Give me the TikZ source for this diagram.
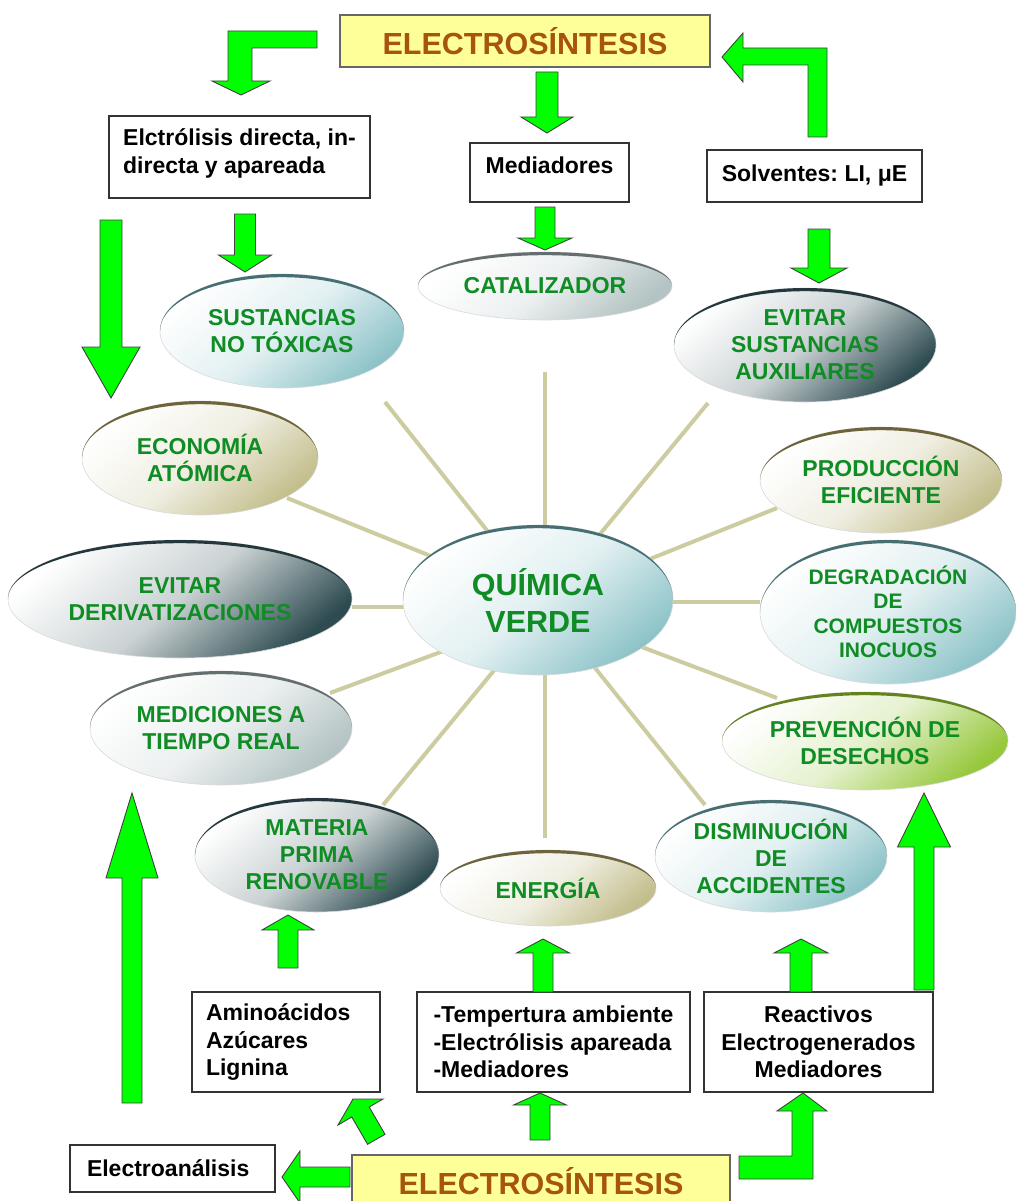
\documentclass[tikz,border=0pt]{standalone}
\usepackage{fontspec}
\setmainfont{Liberation Sans}
\usetikzlibrary{shapes.geometric}
\definecolor{arrowgreen}{RGB}{0,255,0}
\definecolor{spokecol}{RGB}{204,204,160}
\definecolor{gtext}{RGB}{16,140,36}
\definecolor{titlefill}{RGB}{255,255,153}
\definecolor{titletext}{RGB}{166,84,14}
\definecolor{cteal}{RGB}{140,195,200}
\definecolor{ateal}{RGB}{70,110,115}
\definecolor{ckhaki}{RGB}{195,190,140}
\definecolor{akhaki}{RGB}{110,100,60}
\definecolor{cslate}{RGB}{45,75,80}
\definecolor{aslate}{RGB}{35,55,60}
\definecolor{cgray}{RGB}{180,195,195}
\definecolor{agray}{RGB}{100,110,110}
\definecolor{cgreen}{RGB}{150,200,60}
\definecolor{agreen}{RGB}{100,130,30}
\pgfdeclarelayer{background}
\pgfsetlayers{background,main}
\tikzset{
  garrow/.style={fill=arrowgreen, draw=black!75, line width=0.9pt, line join=miter},
  spoke/.style={draw=spokecol, line width=4pt},
  box/.style={draw=black!80, line width=1.3pt, fill=white, inner sep=0pt,
    font=\fontsize{23}{27.5}\selectfont\bfseries, align=left},
  titlebox/.style={draw=black!60, line width=1.3pt, fill=titlefill, text=titletext,
    inner sep=0pt, font=\fontsize{30.5}{36}\selectfont\bfseries},
  gshape/.style={ellipse, inner sep=0pt, draw=black!15, line width=0.6pt,
    left color=white, right color=#1, middle color=#1!25!white, shading angle=40,
    text=gtext, align=center, font=\fontsize{23}{27}\selectfont\bfseries},
}
% name, x, y, rx, ry, fill colour, arc colour, extra options, text
\newcommand\gnode[9]{%
  \node[gshape=#6, minimum width=2*#4, minimum height=2*#5, #8] (#1) at (#2,#3) {#9};
  \fill[#7] (#1.center) ++(-180:#4 and #5)
     arc[start angle=-180,end angle=0,x radius=#4,y radius=#5]
     arc[start angle=0,end angle=-180,x radius=#4,y radius=#5-3.2] -- cycle;}
% vertical block arrow: x, tail y, tip y, shaft half width, head half width, head base y
\newcommand\vblock[6]{%
  \draw[garrow] (#1-#4,#2) -- (#1-#4,#6) -- (#1-#5,#6) -- (#1,#3) -- (#1+#5,#6)
     -- (#1+#4,#6) -- (#1+#4,#2) -- cycle;}
\begin{document}
\frenchspacing
\begin{tikzpicture}[x=1pt,y=-1pt]
\useasboundingbox (0,0) rectangle (1015,1201);

% ---- title boxes
\node[titlebox, minimum width=370, minimum height=52] (top) at (525,41) {ELECTROSÍNTESIS};
\node[titlebox, minimum width=378, minimum height=52] (bot) at (541,1181) {ELECTROSÍNTESIS};

% ---- text boxes
\node[box, minimum width=261, minimum height=82, text depth=12pt] (elc) at (239.5,157) {Elctrólisis directa, in-\\directa y apareada};
\node[box, minimum width=159, minimum height=59, text depth=14pt] (med) at (549.5,172.5) {Mediadores};
\node[box, minimum width=215, minimum height=52] (sol) at (814.5,176) {Solventes: LI, μE};
\node[box, minimum width=188, minimum height=100, text width=160] (ami) at (286,1042) {Aminoácidos\\Azúcares\\Lignina};
\node[box, minimum width=273, minimum height=100] (tmp) at (553.5,1042) {-Tempertura ambiente\\-Electrólisis apareada\\-Mediadores};
\node[box, minimum width=229, minimum height=100, align=center] (rea) at (818.5,1042) {Reactivos\\Electrogenerados\\Mediadores};
\node[box, minimum width=205, minimum height=47, text width=171] (ean) at (172.5,1168.5) {Electroanálisis};

% ---- ellipses
\gnode{qv}{538}{600}{135}{75}{cteal}{ateal}{font=\fontsize{30.5}{37}\selectfont\bfseries}{QUÍMICA\\VERDE}
\gnode{sus}{282}{331}{122}{57}{cteal}{ateal}{}{SUSTANCIAS\\NO TÓXICAS}
\gnode{cat}{545}{286}{127}{34}{cgray}{agray}{}{CATALIZADOR}
\gnode{aux}{805}{345}{131}{57}{cslate}{aslate}{}{EVITAR\\SUSTANCIAS\\AUXILIARES}
\gnode{eco}{200}{458}{118}{57}{ckhaki}{akhaki}{}{ECONOMÍA\\ATÓMICA}
\gnode{der}{180}{599}{172}{59}{cslate}{aslate}{}{EVITAR\\DERIVATIZACIONES}
\gnode{mtr}{221}{728}{131}{57}{cgray}{agray}{}{MEDICIONES A\\TIEMPO REAL}
\gnode{mat}{317}{855}{122}{57}{cslate}{aslate}{}{MATERIA\\PRIMA\\RENOVABLE}
\gnode{ene}{548}{888}{108}{38}{ckhaki}{akhaki}{}{ENERGÍA}
\gnode{dis}{771}{856}{116}{56}{cteal}{ateal}{}{DISMINUCIÓN\\DE\\ACCIDENTES}
\gnode{pre}{865}{741}{143}{49}{cgreen}{agreen}{}{PREVENCIÓN DE\\DESECHOS}
\gnode{deg}{888}{612}{128}{72}{cteal}{ateal}{font=\fontsize{21}{24.5}\selectfont\bfseries}{DEGRADACIÓN\\DE\\COMPUESTOS\\INOCUOS}
\gnode{pro}{881}{480}{121}{53}{ckhaki}{akhaki}{}{PRODUCCIÓN\\EFICIENTE}

% ---- spokes (behind the central ellipse)
\coordinate (s1) at (545,372);  \coordinate (t1) at (545,560);
\coordinate (s2) at (385,402);  \coordinate (t2) at (512,562);
\coordinate (s3) at (708,403);  \coordinate (t3) at (577,562);
\coordinate (s4) at (287,498);  \coordinate (t4) at (463,569);
\coordinate (s5) at (352,607);  \coordinate (t5) at (440,607);
\coordinate (s6) at (330,693);  \coordinate (t6) at (465,643);
\coordinate (s7) at (383,805);  \coordinate (t7) at (515,645);
\coordinate (s8) at (545,838);  \coordinate (t8) at (545,640);
\coordinate (s9) at (705,805);  \coordinate (t9) at (575,643);
\coordinate (s10) at (777,698); \coordinate (t10) at (610,635);
\coordinate (s11) at (760,602); \coordinate (t11) at (640,602);
\coordinate (s12) at (777,508); \coordinate (t12) at (620,571);
\begin{pgfonlayer}{background}
\foreach \i in {1,...,12} {\draw[spoke] (s\i) -- (t\i);}
\end{pgfonlayer}

% ---- straight block arrows
\vblock{547}{72}{133}{11}{26}{117}
\vblock{545}{207}{250}{10}{27}{238}
\vblock{245}{214}{272}{10.5}{26.5}{255}
\vblock{111}{220}{398}{11}{29}{347}
\vblock{819}{229}{283}{11}{28}{268}
\vblock{288}{968}{915}{10}{26}{930}
\vblock{132}{1103}{793}{10}{26}{878}
\vblock{543}{992}{939}{10}{26.5}{953}
\vblock{540}{1140}{1093}{10}{26.5}{1105}
\vblock{801}{992}{939}{11}{27}{953}
\vblock{924}{990}{793}{10}{26.5}{847}

% ---- bent and slanted block arrows
\draw[garrow] (317,31) -- (228,31) -- (228,81) -- (212,81) -- (241,95) -- (270,81) -- (252,81) -- (252,48) -- (317,48) -- cycle;
\draw[garrow] (808,137) -- (808,65) -- (743,65) -- (743,82) -- (722,57) -- (743,33) -- (743,48) -- (827,48) -- (827,137) -- cycle;
\draw[garrow] (739,1179) -- (813,1179) -- (813,1111) -- (827,1111) -- (803,1093) -- (777,1111) -- (792,1111) -- (792,1156) -- (739,1156) -- cycle;
\draw[garrow] (350,1167) -- (300,1167) -- (300,1151) -- (282,1177) -- (300,1203) -- (300,1187) -- (350,1187) -- cycle;
\draw[garrow] (367.6,1144.3) -- (351.8,1117) -- (338,1125) -- (353,1099) -- (383,1099) -- (369.2,1107) -- (385,1134.3) -- cycle;
\end{tikzpicture}
\end{document}
